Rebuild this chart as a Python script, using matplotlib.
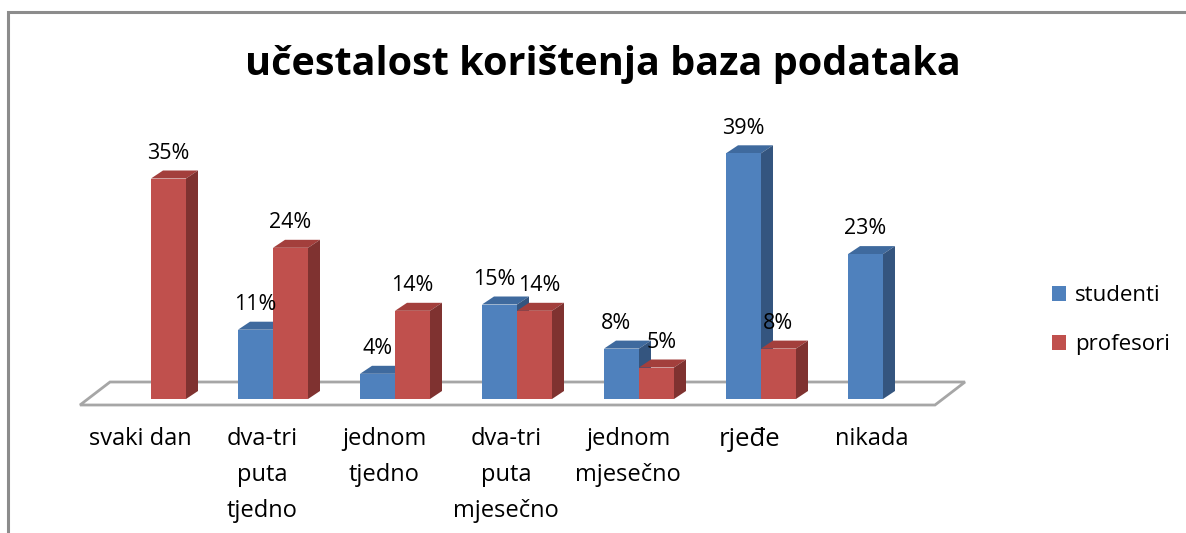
"""
Recreate: učestalost korištenja baza podataka (Excel-style 3D clustered columns).
"""
import matplotlib
matplotlib.use("Agg")
import matplotlib.pyplot as plt
from matplotlib.patches import Polygon, Rectangle, Patch

# ── data ─────────────────────────────────────────────────────────────
categories = ["svaki dan", "dva-tri\nputa\ntjedno", "jednom\ntjedno",
              "dva-tri\nputa\nmjesečno", "jednom\nmjesečno", "rjeđe", "nikada"]
studenti = [0, 11, 4, 15, 8, 39, 23]
profesori = [35, 24, 14, 14, 5, 8, 0]
series_names = ["studenti", "profesori"]

TITLE = "učestalost korištenja baza podataka"

# ── style ────────────────────────────────────────────────────────────
FONT = "Open Sans"
BLUE, BLUE_TOP, BLUE_SIDE = "#4f81bd", "#3f6a9e", "#34557f"
RED, RED_TOP, RED_SIDE = "#c0504d", "#a33f3c", "#7f3230"

W_PX, H_PX = 1186, 533
PX_PER_CAT = 122.0          # pixels between categories
PX_PER_PCT = 6.3            # pixels per percent
X0_PX, BASE_PX = 151.0, 399.0

BAR_W = 35 / PX_PER_CAT     # front face width (data units)
DX = 12 / PX_PER_CAT        # depth offset x
DY = 8 / PX_PER_PCT         # depth offset y (percent units)

fig = plt.figure(figsize=(W_PX / 100, H_PX / 100), dpi=100)
ax = fig.add_axes([0, 0, 1, 1])
ax.set_xlim(-X0_PX / PX_PER_CAT, (W_PX - X0_PX) / PX_PER_CAT)
ax.set_ylim((BASE_PX - H_PX) / PX_PER_PCT, BASE_PX / PX_PER_PCT)
ax.axis("off")


def px(x_px, y_px):
    """pixel position -> data coords"""
    return (x_px - X0_PX) / PX_PER_CAT, (BASE_PX - y_px) / PX_PER_PCT


# outer chart border
bl = px(8.5, 540)
tr = px(1200, 12.0)
ax.add_patch(Rectangle(bl, tr[0] - bl[0], tr[1] - bl[1], fill=False,
                       edgecolor="#8c8c8c", linewidth=2.2, zorder=0))

# floor
floor = [px(80, 405), px(935, 405), px(965, 382), px(110, 382)]
ax.add_patch(Polygon(floor, closed=True, facecolor="white",
                     edgecolor="#a6a6a6", linewidth=2, zorder=1))


def bar3d(x_left, h, front, top, side, nudge=0.0):
    if h <= 0:
        return
    ax.add_patch(Rectangle((x_left, 0), BAR_W, h, facecolor=front,
                           edgecolor="none", zorder=3))
    ax.add_patch(Polygon([(x_left, h), (x_left + BAR_W, h),
                          (x_left + BAR_W + DX, h + DY), (x_left + DX, h + DY)],
                         facecolor=top, edgecolor="none", zorder=2))
    ax.add_patch(Polygon([(x_left + BAR_W, 0), (x_left + BAR_W + DX, DY),
                          (x_left + BAR_W + DX, h + DY), (x_left + BAR_W, h)],
                         facecolor=side, edgecolor="none", zorder=2))
    ax.text(x_left + BAR_W / 2 + nudge, h + 4.0, f"{h}%", ha="center",
            va="center", fontsize=15.5, family=FONT, color="black", zorder=4)


for i, (s, p) in enumerate(zip(studenti, profesori)):
    # labels at about the same height get pushed apart a little (as Excel does)
    push = 5 / PX_PER_CAT if s and p and abs(s - p) < 4 else 0.0
    bar3d(i - BAR_W, s, BLUE, BLUE_TOP, BLUE_SIDE, -push)
    bar3d(i, p, RED, RED_TOP, RED_SIDE, push)

# category labels
for i, cat in enumerate(categories):
    fs = 18.5 if cat == "rjeđe" else 17
    ax.text(i - 0.09, px(0, 427)[1], cat, ha="center", va="top",
            fontsize=fs, family=FONT, linespacing=1.68, zorder=4)

# title
tx, ty = px(603, 64)
ax.text(tx, ty, TITLE, ha="center", va="center", fontsize=28.5,
        fontweight="bold", family=FONT)

# legend
handles = [Patch(facecolor=BLUE, label=series_names[0]),
           Patch(facecolor=RED, label=series_names[1])]
fig.legend(handles=handles, loc="center left",
           bbox_to_anchor=(1032 / W_PX, 1 - 320 / H_PX),
           frameon=False, handlelength=0.65, handleheight=0.65,
           handletextpad=0.4, labelspacing=1.25,
           prop={"family": FONT, "size": 16})

fig.savefig("out.png", dpi=100)
